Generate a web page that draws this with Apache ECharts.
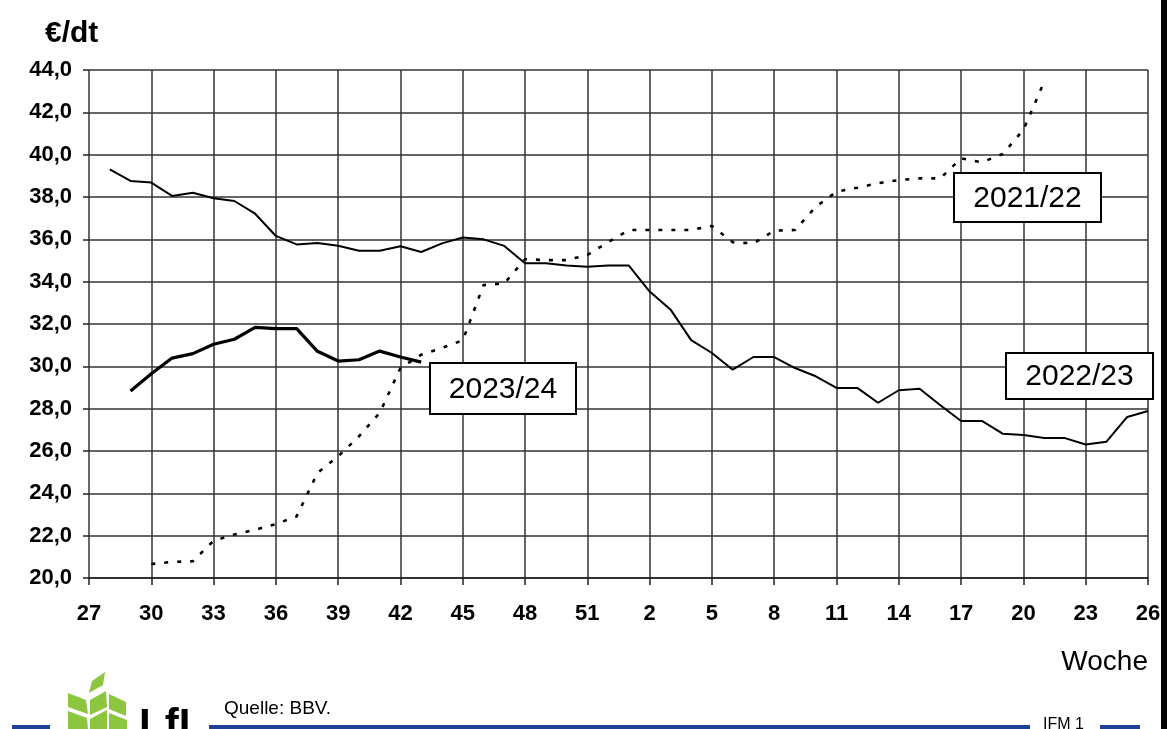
<!DOCTYPE html>
<html>
<head>
<meta charset="utf-8">
<script src="https://cdn.jsdelivr.net/npm/echarts@6/dist/echarts.min.js"></script>
<style>
html,body{margin:0;padding:0;background:#fff;}
#c{width:1167px;height:729px;}
</style>
</head>
<body>
<div id="c"></div>
<script>
// Kalenderwochen (Juli bis Juni)
var weeks = ['27','28','29','30','31','32','33','34','35','36','37','38','39','40','41','42','43','44','45','46','47','48','49','50','51','52',
             '1','2','3','4','5','6','7','8','9','10','11','12','13','14','15','16','17','18','19','20','21','22','23','24','25','26'];

// 2022/23 (Woche 28 .. 26)
var s2223 = [null, 39.3, 38.76, 38.68, 38.05, 38.2, 37.94, 37.81, 37.21, 36.16, 35.76, 35.83, 35.70, 35.46, 35.46, 35.67, 35.40, 35.81, 36.09, 36.0, 35.69, 34.87, 34.87, 34.76, 34.71, 34.76,
             34.76, 33.53, 32.69, 31.24, 30.63, 29.84, 30.44, 30.44, 29.92, 29.53, 28.98, 28.98, 28.28, 28.87, 28.94, 28.16, 27.42, 27.42, 26.82, 26.76, 26.61, 26.61, 26.31, 26.44, 27.61, 27.89];

// 2023/24 (Woche 29 .. 43)
var s2324 = [null, null, 28.83, 29.65, 30.39, 30.6, 31.04, 31.28, 31.84, 31.78, 31.78, 30.71, 30.25, 30.31, 30.72, 30.44, 30.2];

// 2021/22 (Woche 30 .. 21)
var s2122 = [null, null, null, 20.66, 20.76, 20.79, 21.76, 22.05, 22.28, 22.55, 22.91, 24.96, 25.75, 26.69, 27.8, 29.92, 30.55, 30.87, 31.23, 33.84, 33.92, 35.06, 35.02, 35.02, 35.26, 35.87,
             36.44, 36.44, 36.44, 36.44, 36.63, 35.86, 35.81, 36.41, 36.44, 37.54, 38.25, 38.44, 38.65, 38.8, 38.88, 38.88, 39.83, 39.64, 40.03, 41.17, 43.45];

var yMin = 20, yMax = 44, yStep = 2;

var FONT = 'Liberation Sans, Arial, sans-serif';
var chart = echarts.init(document.getElementById('c'), null, {renderer: 'canvas'});

function box(x, y, w, h, label) {
  return [
    {type: 'rect', z: 100, shape: {x: x, y: y, width: w, height: h},
     style: {fill: '#fff', stroke: '#000', lineWidth: 2}},
    {type: 'text', z: 101, x: x + w / 2, y: y + h / 2 + 1,
     style: {text: label, font: '30px ' + FONT, fill: '#000', align: 'center', verticalAlign: 'middle'}}
  ];
}

var leaf = '#8cc63e';
var graphics = [].concat(
  box(954, 173, 147, 49, '2021/22'),
  box(430, 363, 146, 51, '2023/24'),
  box(1006, 353, 147, 46, '2022/23'),
  [
    {type: 'text', x: 1148, y: 662, style: {text: 'Woche', font: '28px ' + FONT, fill: '#000', align: 'right', verticalAlign: 'middle'}},
    {type: 'text', x: 224, y: 709, style: {text: 'Quelle: BBV.', font: '19px ' + FONT, fill: '#000', align: 'left', verticalAlign: 'middle'}},
    {type: 'text', x: 1043, y: 717, style: {text: 'IFM 1', font: '16px ' + FONT, fill: '#000', align: 'left', verticalAlign: 'top'}},
    {type: 'rect', shape: {x: 12, y: 725, width: 38, height: 4}, style: {fill: '#1f3f99'}},
    {type: 'rect', shape: {x: 209, y: 725, width: 821, height: 4}, style: {fill: '#1f3f99'}},
    {type: 'rect', shape: {x: 1100, y: 725, width: 40, height: 4}, style: {fill: '#1f3f99'}},
    {type: 'rect', shape: {x: 1161, y: 0, width: 6, height: 729}, style: {fill: '#000'}},
    // LfL logo (leaves)
    {type: 'polygon', shape: {points: [[89,693],[92,681],[105,672],[103,685]]}, style: {fill: leaf}},
    {type: 'polygon', shape: {points: [[68,693],[86,700],[88,714],[68,707]]}, style: {fill: leaf}},
    {type: 'polygon', shape: {points: [[90,700],[106,691],[107,707],[90,715]]}, style: {fill: leaf}},
    {type: 'polygon', shape: {points: [[109,694],[126,702],[126,716],[109,709]]}, style: {fill: leaf}},
    {type: 'polygon', shape: {points: [[68,711],[87,718],[88,729],[68,729]]}, style: {fill: leaf}},
    {type: 'polygon', shape: {points: [[90,719],[107,710],[107,729],[90,729]]}, style: {fill: leaf}},
    {type: 'polygon', shape: {points: [[109,713],[127,720],[127,729],[109,729]]}, style: {fill: leaf}},
    {type: 'text', x: 139, y: 705, style: {text: 'LfL', font: 'bold 42px ' + FONT, fill: '#000', align: 'left', verticalAlign: 'top'}}
  ]
);

chart.setOption({
  backgroundColor: '#fff',
  animation: false,
  title: {
    text: '€/dt', left: 40, top: 14,
    textStyle: {fontFamily: FONT, fontSize: 30, fontWeight: 'bold', color: '#000'}
  },
  grid: {left: 89, right: 19, top: 70, bottom: 151, containLabel: false},
  xAxis: {
    type: 'category',
    data: weeks,
    boundaryGap: false,
    axisLine: {show: true, lineStyle: {color: '#222', width: 1.5}},
    axisTick: {show: true, interval: 2, length: 7, lineStyle: {color: '#222', width: 1.5}},
    axisLabel: {interval: 2, margin: 25, color: '#000', fontFamily: FONT, fontSize: 22, fontWeight: 'bold'},
    splitLine: {show: true, interval: 2, lineStyle: {color: '#333', width: 1.5}}
  },
  yAxis: {
    type: 'value',
    min: yMin, max: yMax, interval: yStep,
    axisLine: {show: false},
    axisTick: {show: true, length: 6, lineStyle: {color: '#222', width: 1.5}},
    axisLabel: {margin: 17, color: '#000', fontFamily: FONT, fontSize: 22, fontWeight: 'bold',
      formatter: function (v) { return v.toFixed(1).replace('.', ','); }},
    splitLine: {show: true, lineStyle: {color: '#333', width: 1.5}}
  },
  series: [
    {name: '2021/22', type: 'line', data: s2122, symbol: 'none', connectNulls: false,
     lineStyle: {color: '#000', width: 2.6, type: [4, 9]}, z: 3},
    {name: '2022/23', type: 'line', data: s2223, symbol: 'none',
     lineStyle: {color: '#000', width: 2}, z: 4},
    {name: '2023/24', type: 'line', data: s2324, symbol: 'none',
     lineStyle: {color: '#000', width: 3.2}, z: 5}
  ],
  graphic: graphics
});
</script>
</body>
</html>
